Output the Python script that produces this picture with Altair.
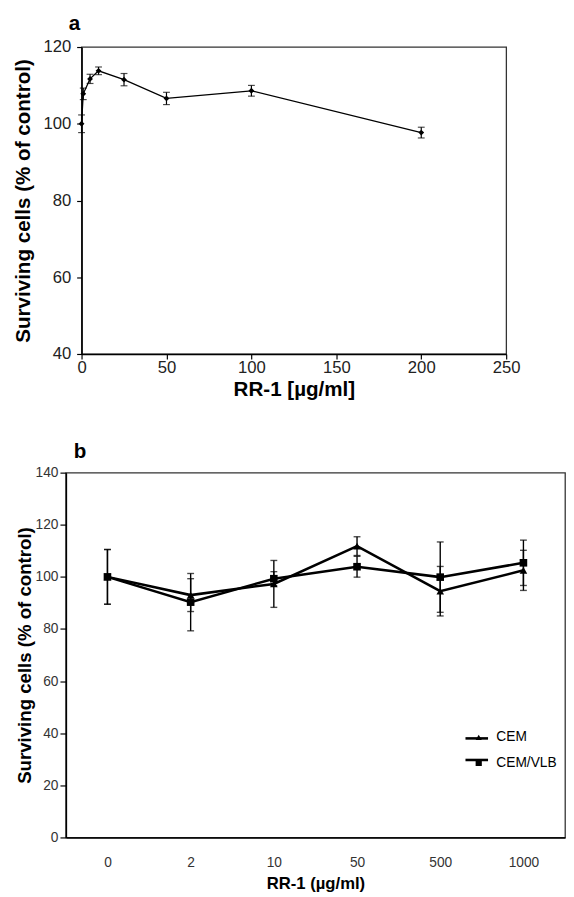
import altair as alt
import pandas as pd

# ---------------- data ----------------
panel_labels = ["a", "b"]

# panel a
a_dose = [0, 1, 5, 10, 25, 50, 100, 200]
a_surv = [100.0, 107.8, 111.7, 113.8, 111.5, 106.6, 108.6, 97.7]
a_err = [2.3, 1.5, 1.2, 1.0, 1.6, 1.6, 1.4, 1.4]
a_xticks = [0, 50, 100, 150, 200, 250]
a_yticks = [40, 60, 80, 100, 120]

# panel b
b_dose = ["0", "2", "10", "50", "500", "1000"]
b_series = ["CEM", "CEM/VLB"]
b_cem = [100.0, 93.0, 97.3, 111.8, 94.5, 102.5]
b_cem_err = [10.5, 6.3, 9.0, 3.6, 9.5, 7.7]
b_vlb = [100.0, 90.3, 99.3, 103.9, 99.9, 105.4]
b_vlb_err = [10.5, 11.0, 2.7, 4.0, 13.5, 8.7]
b_yticks = [0, 20, 40, 60, 80, 100, 120, 140]

FONT = "Liberation Sans"

# ---------------- panel a ----------------
dfa = pd.DataFrame({"dose": a_dose, "surv": a_surv, "err": a_err})
dfa["lo"] = dfa["surv"] - dfa["err"]
dfa["hi"] = dfa["surv"] + dfa["err"]

xa = alt.X("dose:Q", scale=alt.Scale(domain=[0, 250], nice=False),
           axis=alt.Axis(values=a_xticks, title="RR-1 [µg/ml]", labelFontSize=17,
                         titleFontSize=21, titleFontWeight="bold", tickSize=5,
                         labelPadding=1, titlePadding=3, labelFlush=False))
ya = alt.Y("surv:Q", scale=alt.Scale(domain=[40, 120], nice=False),
           axis=alt.Axis(values=a_yticks, title="Surviving cells (% of control)",
                         labelFontSize=17, titleFontSize=21, titleFontWeight="bold",
                         tickSize=5, labelPadding=6, titlePadding=10))

base_a = alt.Chart(dfa)
line_a = base_a.mark_line(color="black", strokeWidth=1.3).encode(x=xa, y=ya)
rule_a = base_a.mark_rule(color="black", strokeWidth=1.2).encode(
    x="dose:Q", y="lo:Q", y2="hi:Q")
caplo_a = base_a.mark_tick(orient="horizontal", size=7, thickness=1.2, color="black").encode(
    x="dose:Q", y="lo:Q")
caphi_a = base_a.mark_tick(orient="horizontal", size=7, thickness=1.2, color="black").encode(
    x="dose:Q", y="hi:Q")
pts_a = base_a.mark_point(shape="diamond", filled=True, size=35, color="black", opacity=1).encode(
    x="dose:Q", y="surv:Q")
lab_a = alt.Chart(pd.DataFrame({"t": [panel_labels[0]]})).mark_text(
    font=FONT, fontSize=21, fontWeight="bold", align="left", baseline="alphabetic",
    color="black").encode(text="t:N", x=alt.value(-13), y=alt.value(-17))

panel_a = alt.layer(line_a, rule_a, caplo_a, caphi_a, pts_a, lab_a).properties(
    width=433, height=313)

# ---------------- panel b ----------------
rows = []
for i, d in enumerate(b_dose):
    rows.append({"dose": d, "series": b_series[0], "surv": b_cem[i], "err": b_cem_err[i]})
    rows.append({"dose": d, "series": b_series[1], "surv": b_vlb[i], "err": b_vlb_err[i]})
dfb = pd.DataFrame(rows)
dfb["lo"] = dfb["surv"] - dfb["err"]
dfb["hi"] = dfb["surv"] + dfb["err"]
dfb["series2"] = dfb["series"]

xb = alt.X("dose:N", sort=b_dose, scale=alt.Scale(type="point", padding=0.5),
           axis=alt.Axis(title="RR-1 (µg/ml)", labelAngle=0, ticks=False, labelFontSize=14,
                         labelColor="#333", labelPadding=19, titleFontSize=17,
                         titleFontWeight="bold", titlePadding=6))
yb = alt.Y("surv:Q", scale=alt.Scale(domain=[0, 140], nice=False),
           axis=alt.Axis(values=b_yticks, title="Surviving cells (% of control)",
                         labelFontSize=14, labelColor="#333", titleFontSize=19,
                         titleFontWeight="bold", tickSize=6, labelPadding=2, titlePadding=1))

base_b = alt.Chart(dfb)
line_b = base_b.mark_line(strokeWidth=2.6).encode(
    x=xb, y=yb, detail="series:N",
    color=alt.Color("series2:N", scale=alt.Scale(domain=b_series, range=["black", "black"]),
                    legend=alt.Legend(orient="none", legendX=406, legendY=258, title=None,
                                      symbolType="stroke", symbolSize=529,
                                      symbolStrokeWidth=2.6, symbolStrokeColor="black",
                                      labelExpr="''", rowPadding=3)))
rule_b = base_b.mark_rule(color="black", strokeWidth=1.4).encode(
    x=alt.X("dose:N", sort=b_dose), y="lo:Q", y2="hi:Q")
caplo_b = base_b.mark_tick(orient="horizontal", size=7, thickness=1.4, color="black").encode(
    x=alt.X("dose:N", sort=b_dose), y="lo:Q")
caphi_b = base_b.mark_tick(orient="horizontal", size=7, thickness=1.4, color="black").encode(
    x=alt.X("dose:N", sort=b_dose), y="hi:Q")
pts_b = base_b.mark_point(filled=True, size=60, color="black", opacity=1).encode(
    x=alt.X("dose:N", sort=b_dose), y="surv:Q",
    shape=alt.Shape("series:N", scale=alt.Scale(domain=b_series, range=["triangle-up", "square"]),
                    legend=alt.Legend(orient="none", legendX=414, legendY=263, title=None,
                                      symbolFillColor="black", symbolStrokeColor="black",
                                      symbolSize=40, labelFontSize=14, labelFont=FONT,
                                      labelColor="black", labelOffset=11, rowPadding=12)))
lab_b = alt.Chart(pd.DataFrame({"t": [panel_labels[1]]})).mark_text(
    font=FONT, fontSize=21, fontWeight="bold", align="left", baseline="alphabetic",
    color="black").encode(text="t:N", x=alt.value(8), y=alt.value(-15))

panel_b = alt.layer(line_b, rule_b, caplo_b, caphi_b, pts_b, lab_b).resolve_legend(
    color="independent", shape="independent").properties(width=509, height=372)


def spacer(w):
    return alt.Chart(pd.DataFrame({"v": [0]})).mark_point(size=0, opacity=0).encode(
        x=alt.value(0), y=alt.value(0)).properties(
        width=w, height=1, view=alt.ViewBackground(stroke="transparent"))


row_a = alt.hconcat(spacer(1), panel_a, spacing=0)
row_b = alt.hconcat(spacer(4), panel_b, spacing=0)

chart = alt.vconcat(row_a, row_b, spacing=41).properties(
    padding={"left": 0, "top": -4, "right": 0, "bottom": 0}
).configure_view(stroke="#333", strokeWidth=1.3).configure_axis(
    grid=False, domainColor="black", domainWidth=1.6, tickColor="black", tickWidth=1.2,
    labelFont=FONT, titleFont=FONT, labelColor="#222", titleColor="black"
).configure_legend(labelFont=FONT)

chart.save("out.html", embed_options={"renderer": "svg", "actions": False})
